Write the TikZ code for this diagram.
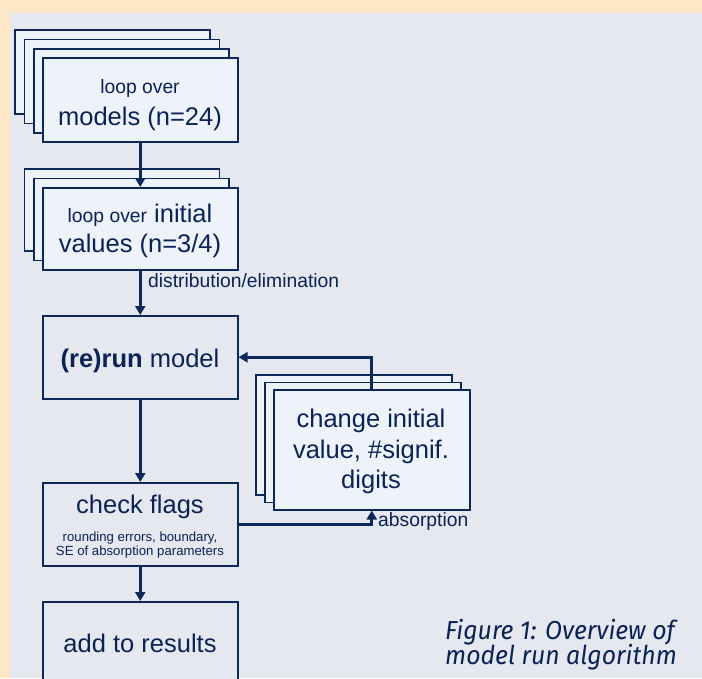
\documentclass[tikz,border=0pt]{standalone}
\usepackage{fontspec}
\setmainfont{Liberation Sans}
\newfontfamily\capfont{Fira Sans}
\usetikzlibrary{arrows.meta}
\definecolor{peach}{HTML}{FDE7C6}
\definecolor{panel}{HTML}{E5E8EE}
\definecolor{boxfill}{HTML}{EEF3F9}
\definecolor{navy}{HTML}{0B2859}
\definecolor{ink}{HTML}{0A2256}
\begin{document}
\begin{tikzpicture}[x=1pt,y=-1pt,
  stackbox/.style={draw=navy, fill=boxfill, line width=1.5pt, inner sep=0pt, anchor=north west},
  flowbox/.style={stackbox, fill=panel},
  txt/.style={text=ink, inner sep=0pt, anchor=base},
  lbl/.style={text=ink, inner sep=0pt, anchor=base west},
  big/.style={font=\fontsize{25.5}{30}\selectfont},
  mid/.style={font=\fontsize{19.3}{22}\selectfont},
  tiny/.style={font=\fontsize{13.2}{15}\selectfont},
  conn/.style={draw=navy, line width=3pt, -{Triangle[length=9pt,width=10pt]}}]
\useasboundingbox (0,0) rectangle (702,678);
\clip (0,0) rectangle (702,678);
\fill[peach] (0,0) rectangle (702,678);
\fill[panel] (10,13) rectangle (702,678);

% models stack
\node[stackbox, minimum width=195pt, minimum height=84pt] (m3) at (14,29) {};
\node[stackbox, minimum width=195pt, minimum height=84pt] (m2) at (23.5,38.5) {};
\node[stackbox, minimum width=195pt, minimum height=84pt] (m1) at (33,48) {};
\node[stackbox, minimum width=195pt, minimum height=84pt] (models) at (42,57) {};
\node[txt, mid] (models-t1) at (140,93) {loop over};
\node[txt, big] (models-t2) at (140,125) {models (n=24)};

% initial values stack
\node[stackbox, minimum width=195pt, minimum height=82pt] (i2) at (23.5,168) {};
\node[stackbox, minimum width=195pt, minimum height=82pt] (i1) at (33,177.5) {};
\node[stackbox, minimum width=195pt, minimum height=82pt] (init) at (42,187) {};
\node[txt, big] (init-t1) at (140,222) {{\fontsize{19.3}{22}\selectfont loop over} initial};
\node[txt, big] (init-t2) at (140,252) {values (n=3/4)};

% rerun
\node[flowbox, minimum width=195pt, minimum height=83pt] (rerun) at (42,315) {};
\node[txt, big] (rerun-t) at (140,367) {\textbf{(re)run} model};

% check flags
\node[flowbox, minimum width=195pt, minimum height=83pt] (check) at (42,482) {};
\node[txt, big] (check-t1) at (140,513) {check flags};
\node[txt, tiny] (check-t2) at (140,541) {rounding errors, boundary,};
\node[txt, tiny] (check-t3) at (140,555.5) {SE of absorption parameters};

% add to results
\node[flowbox, minimum width=195pt, minimum height=100pt] (add) at (42,601) {};
\node[txt, big] (add-t) at (140,652) {add to results};

% change stack
\node[stackbox, minimum width=196pt, minimum height=120pt] (c2) at (255,374) {};
\node[stackbox, minimum width=196pt, minimum height=120pt] (c1) at (264,381.5) {};
\node[stackbox, minimum width=196pt, minimum height=120pt] (change) at (273,389) {};
\node[txt, big] (change-t1) at (371,427) {change initial};
\node[txt, big] (change-t2) at (371,458) {value, \#signif.};
\node[txt, big] (change-t3) at (371,488) {digits};

% connectors
\draw[conn] (models.south) -- (init.north);
\draw[conn] (init.south) -- (rerun.north);
\draw[conn] (rerun.south) -- (check.north);
\draw[conn] (check.south) -- (add.north);
\draw[conn] (change.north) |- (rerun.east);
\draw[conn] (check.east) -| (change.south);

% labels
\node[lbl, mid] (dist) at (148,287) {distribution/elimination};
\node[lbl, mid] (abs) at (378,526) {absorption};

% caption
\node[lbl, font=\capfont\itshape\fontsize{26}{30}\selectfont] (cap1) at (445,639) {\scalebox{0.955}[1]{Figure 1: Overview of}};
\node[lbl, font=\capfont\itshape\fontsize{26}{30}\selectfont] (cap2) at (445,664) {\scalebox{0.955}[1]{model run algorithm}};
\end{tikzpicture}
\end{document}
